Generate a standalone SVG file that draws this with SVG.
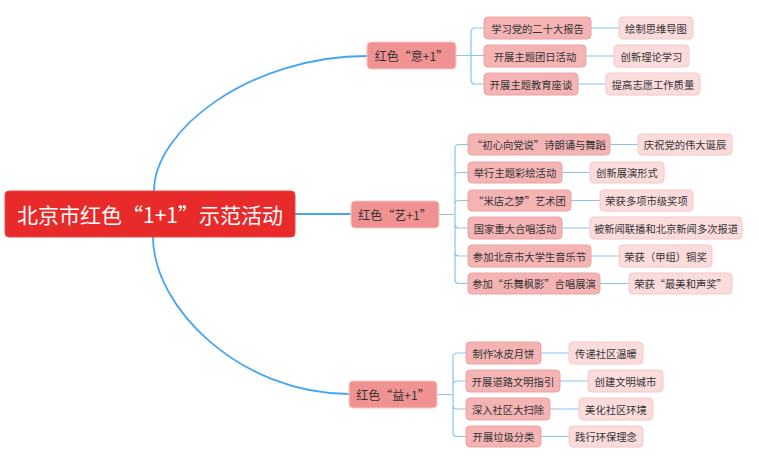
<svg xmlns="http://www.w3.org/2000/svg" width="759" height="465" viewBox="0 0 759 465">
<style>
text{font-family:"Noto Sans CJK SC","Microsoft YaHei","Noto Sans",sans-serif;dominant-baseline:central;text-anchor:middle;fill:#333}
.root rect{fill:#E92A2A;stroke:#E94848;stroke-width:1}
.root text{fill:#fff;font-size:21px}
.l1 rect{fill:#F09292;stroke:#F8C8BE;stroke-width:1}
.l1 text{font-size:12px}
.l2 rect{fill:#F4B4B4;stroke:#EEA0A0;stroke-width:1}
.l3 rect{fill:#FBDCDC;stroke:#F7C6C6;stroke-width:1}
.l2 text,.l3 text{font-size:10.3px}
.main{fill:none;stroke:#44A5F8;stroke-width:1.8}
.sub{fill:none;stroke:#86C4F6;stroke-width:1.2}
</style>
<rect width="759" height="465" fill="#fff"/>
<g id="connectors">
<path class="main" d="M154,191 C154,130 250,56 367,56"/>
<path class="main" d="M295,214 H351"/>
<path class="main" d="M153,237 C153,308 241,394 349,394"/>
<path class="sub" d="M456,55.5 H471 M471,55.5 V32 Q471,28 475,28 H484 M471,55.5 H484 M471,55.5 V80 Q471,84 475,84 H484"/>
<path class="sub" d="M591,28 H619 M586,56 H614 M578,84 H606"/>
<path class="sub" d="M439,214.5 H455 M455,214.5 V148.5 Q455,144.5 459,144.5 H468 M455,214.5 V176.5 Q455,172.5 459,172.5 H468 M455,214.5 V204.5 Q455,200.5 459,200.5 H468 M455,214.5 V224 Q455,228 459,228 H468 M455,214.5 V252 Q455,256 459,256 H468 M455,214.5 V279.5 Q455,283.5 459,283.5 H468"/>
<path class="sub" d="M610,144.5 H638 M562,172.5 H590 M571,200.5 H600 M562,228 H590 M591,256 H619 M600,283.5 H629"/>
<path class="sub" d="M437,394.5 H453 M453,394.5 V357 Q453,353 457,353 H466 M453,394.5 V385 Q453,381 457,381 H466 M453,394.5 V405 Q453,409 457,409 H466 M453,394.5 V432.5 Q453,436.5 457,436.5 H466"/>
<path class="sub" d="M541,353 H569 M560,381 H588 M550,409 H579 M541,436.5 H569"/>
</g>
<g id="root" class="root"><rect x="5" y="191" width="290" height="46" rx="4"/><text x="150" y="214">北京市红色“1+1”示范活动</text></g>
<g id="yi" class="l1"><rect x="367" y="42" width="89" height="27" rx="4"/><text x="411.5" y="55.5">红色“意+1”</text></g>
<g id="yi-1" class="l2"><rect x="484" y="17" width="107" height="22" rx="4"/><text x="537.5" y="28">学习党的二十大报告</text></g>
<g id="yi-2" class="l2"><rect x="484" y="45" width="102" height="22" rx="4"/><text x="535" y="56">开展主题团日活动</text></g>
<g id="yi-3" class="l2"><rect x="484" y="73" width="94" height="22" rx="4"/><text x="531" y="84">开展主题教育座谈</text></g>
<g id="yi-1a" class="l3"><rect x="619" y="17" width="74" height="22" rx="4"/><text x="656" y="28">绘制思维导图</text></g>
<g id="yi-2a" class="l3"><rect x="614" y="45" width="75" height="22" rx="4"/><text x="651.5" y="56">创新理论学习</text></g>
<g id="yi-3a" class="l3"><rect x="606" y="73" width="94" height="22" rx="4"/><text x="653" y="84">提高志愿工作质量</text></g>
<g id="yi2" class="l1"><rect x="351" y="201" width="88" height="27" rx="4"/><text x="395" y="214.5">红色“艺+1”</text></g>
<g id="art-1" class="l2"><rect x="468" y="134" width="142" height="21" rx="4"/><text x="539" y="144.5">“初心向党说”诗朗诵与舞蹈</text></g>
<g id="art-2" class="l2"><rect x="468" y="162" width="94" height="21" rx="4"/><text x="515" y="172.5">举行主题彩绘活动</text></g>
<g id="art-3" class="l2"><rect x="468" y="190" width="103" height="21" rx="4"/><text x="519.5" y="200.5">“米店之梦”艺术团</text></g>
<g id="art-4" class="l2"><rect x="468" y="217" width="94" height="22" rx="4"/><text x="515" y="228">国家重大合唱活动</text></g>
<g id="art-5" class="l2"><rect x="468" y="245" width="123" height="22" rx="4"/><text x="529.5" y="256">参加北京市大学生音乐节</text></g>
<g id="art-6" class="l2"><rect x="468" y="273" width="132" height="21" rx="4"/><text x="534" y="283.5">参加“乐舞枫影”合唱展演</text></g>
<g id="art-1a" class="l3"><rect x="638" y="134" width="94" height="21" rx="4"/><text x="685" y="144.5">庆祝党的伟大诞辰</text></g>
<g id="art-2a" class="l3"><rect x="590" y="162" width="74" height="21" rx="4"/><text x="627" y="172.5">创新展演形式</text></g>
<g id="art-3a" class="l3"><rect x="600" y="190" width="93" height="21" rx="4"/><text x="646.5" y="200.5">荣获多项市级奖项</text></g>
<g id="art-4a" class="l3"><rect x="590" y="217" width="152" height="22" rx="4"/><text x="666" y="228">被新闻联播和北京新闻多次报道</text></g>
<g id="art-5a" class="l3"><rect x="619" y="245" width="93" height="22" rx="4"/><text x="665.5" y="256">荣获（甲组）铜奖</text></g>
<g id="art-6a" class="l3"><rect x="629" y="273" width="103" height="21" rx="4"/><text x="680.5" y="283.5">荣获“最美和声奖”</text></g>
<g id="yi3" class="l1"><rect x="349" y="381" width="88" height="27" rx="4"/><text x="393" y="394.5">红色“益+1”</text></g>
<g id="ben-1" class="l2"><rect x="466" y="342" width="75" height="22" rx="4"/><text x="503.5" y="353">制作冰皮月饼</text></g>
<g id="ben-2" class="l2"><rect x="466" y="370" width="94" height="22" rx="4"/><text x="513" y="381">开展道路文明指引</text></g>
<g id="ben-3" class="l2"><rect x="466" y="398" width="84" height="22" rx="4"/><text x="508" y="409">深入社区大扫除</text></g>
<g id="ben-4" class="l2"><rect x="466" y="426" width="75" height="21" rx="4"/><text x="503.5" y="436.5">开展垃圾分类</text></g>
<g id="ben-1a" class="l3"><rect x="569" y="342" width="74" height="22" rx="4"/><text x="606" y="353">传递社区温暖</text></g>
<g id="ben-2a" class="l3"><rect x="588" y="370" width="75" height="22" rx="4"/><text x="625.5" y="381">创建文明城市</text></g>
<g id="ben-3a" class="l3"><rect x="579" y="398" width="74" height="22" rx="4"/><text x="616" y="409">美化社区环境</text></g>
<g id="ben-4a" class="l3"><rect x="569" y="426" width="74" height="21" rx="4"/><text x="606" y="436.5">践行环保理念</text></g>
</svg>
